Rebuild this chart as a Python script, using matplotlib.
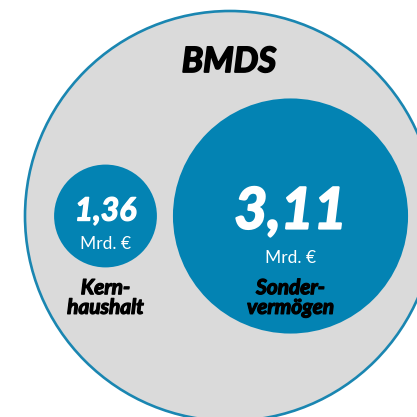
import matplotlib
matplotlib.use("Agg")
import matplotlib.pyplot as plt
import matplotlib.patheffects as pe
from matplotlib.patches import Circle

# data
title = "BMDS"
labels = ["Kern-\nhaushalt", "Sonder-\nvermögen"]
values = [1.36, 3.11]
unit = "Mrd. €"

BLUE = "#0383b3"
GREY = "#dadada"
FONT = "Lato"

def heavy(color, w):
    # fake a black weight by stroking the glyphs
    return [pe.withStroke(linewidth=w, foreground=color)]

fig = plt.figure(figsize=(4.17, 4.17), dpi=100)
ax = fig.add_axes([0, 0, 1, 1])
ax.set_xlim(0, 417)
ax.set_ylim(417, 0)
ax.set_aspect("equal")
ax.axis("off")

# outer circle (total)
ax.add_patch(Circle((230, 216), 205, facecolor=GREY, edgecolor="#1a86b1", lw=1.9))
ax.text(229, 62, title, ha="center", va="center", fontsize=25, fontweight="bold",
        fontstyle="italic", family=FONT, color="black", path_effects=heavy("black", 1.3))

# inner circles, radius proportional to value
scale = 37.8
centers_x = [105.5, 290.5]
cy = 216
num_size = [23, 41]
num_dy = [-5, -4]
unit_dy = [28, 42]
for v, lab, x, fs, ndy, udy in zip(values, labels, centers_x, num_size, num_dy, unit_dy):
    r = v * scale
    ax.add_patch(Circle((x, cy), r, facecolor=BLUE, edgecolor="none"))
    ax.text(x, cy + ndy, f"{v:.2f}".replace(".", ","), ha="center", va="center",
            fontsize=fs, fontweight="bold", fontstyle="italic", family=FONT, color="white",
            path_effects=heavy("white", 1.6 if fs > 30 else 1.0))
    ax.text(x, cy + udy, unit, ha="center", va="center", fontsize=12.5,
            family=FONT, color="white")
    ax.text(x, 298, lab, ha="center", va="center", fontsize=15, fontweight="bold",
            fontstyle="italic", family=FONT, color="black", linespacing=0.98,
            path_effects=heavy("black", 0.9))

fig.savefig("out.png", dpi=100)
